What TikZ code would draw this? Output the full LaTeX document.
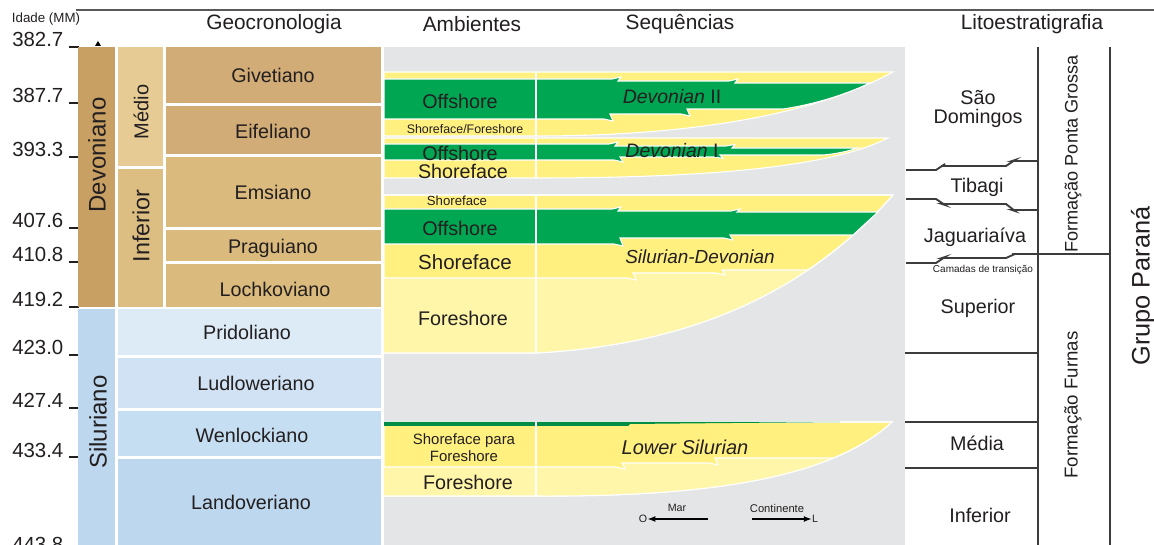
\documentclass[tikz,border=0pt]{standalone}
\usepackage{fontspec}
\setmainfont{Liberation Sans}
\usetikzlibrary{arrows.meta}
\definecolor{txt}{RGB}{35,31,32}
\definecolor{devc}{RGB}{201,160,99}
\definecolor{medc}{RGB}{230,203,148}
\definecolor{infc}{RGB}{220,190,130}
\definecolor{stA}{RGB}{210,172,118}
\definecolor{stB}{RGB}{218,186,125}
\definecolor{silc}{RGB}{189,215,238}
\definecolor{prid}{RGB}{221,235,247}
\definecolor{ludl}{RGB}{208,226,243}
\definecolor{wenl}{RGB}{197,222,242}
\definecolor{land}{RGB}{189,215,238}
\definecolor{greyb}{RGB}{228,229,230}
\definecolor{grn}{RGB}{0,166,81}
\definecolor{shy}{RGB}{255,240,128}
\definecolor{fsy}{RGB}{255,246,170}
\definecolor{lin}{RGB}{60,60,60}
\newcommand{\fsz}[1]{\fontsize{#1}{#1}\selectfont}
\tikzset{
  band/.style={fill=#1, draw=white, line width=0.8},
  lbl/.style={font=\fsz{14.8}},
  hdr/.style={font=\fsz{15.6}},
  age/.style={font=\fsz{15.3}, anchor=base west},
  lith/.style={draw=lin, line width=1.4},
}
\begin{document}
\begin{tikzpicture}[x=0.75pt,y=-0.75pt, every node/.style={inner sep=0pt, text=txt}]
\useasboundingbox (0,0) rectangle (1154,545);
\fill[white] (0,0) rectangle (1154,545);
% top rule
\draw[draw=black!65, line width=2.2] (76,10) -- (1154,10);
% headers
\node[font=\fsz{10}] (idade) at (46,19) {Idade (MM)};
\node[hdr] (hgeo) at (274,24) {Geocronologia};
\node[hdr] (hamb) at (472,24) {Ambientes};
\node[hdr] (hseq) at (680,24) {Sequências};
\node[hdr] (hlit) at (1032,24) {Litoestratigrafia};
% ages
\foreach \v/\y [count=\i] in {382.7/47,387.7/103,393.3/157,407.6/228,410.8/262,419.2/307,423.0/355,427.4/408,433.4/457,443.8/551}{
  \node[age] (age\i) at (12,\y) {\v};
  \draw[txt, line width=1.2] ([xshift=4]age\i.base east) -- ++(10,0);
}
% geochronology boxes
\fill[devc] (78,47) rectangle (115,307);
\fill[medc] (118,47) rectangle (163,166);
\fill[infc] (118,169) rectangle (163,307);
\fill[stA] (166,47) rectangle (381,103);
\fill[stA] (166,106) rectangle (381,154);
\fill[stB] (166,157) rectangle (381,227);
\fill[stB] (166,230) rectangle (381,261);
\fill[stB] (166,264) rectangle (381,307);
\fill[silc] (78,309) rectangle (115,545);
\fill[prid] (118,309) rectangle (381,355);
\fill[ludl] (118,358) rectangle (381,408);
\fill[wenl] (118,411) rectangle (381,456);
\fill[land] (118,459) rectangle (381,545);
\fill[black] (95,46) -- (101,46) -- (98,41) -- cycle;
\node[font=\fsz{18}, rotate=90] (dev) at (97,155) {Devoniano};
\node[font=\fsz{18}, rotate=90] (sil) at (98,422) {Siluriano};
\node[font=\fsz{15}, rotate=90] (med) at (141,112) {Médio};
\node[font=\fsz{17.5}, rotate=90] (inf) at (141,226) {Inferior};
\node[lbl] (giv) at (273,75) {Givetiano};
\node[lbl] (eif) at (273,131) {Eifeliano};
\node[lbl] (ems) at (273,192) {Emsiano};
\node[lbl] (pra) at (273,248) {Praguiano};
\node[lbl] (loc) at (275,289) {Lochkoviano};
\node[lbl] (pri) at (247,332) {Pridoliano};
\node[lbl] (lud) at (256,383) {Ludloweriano};
\node[lbl] (wen) at (252,435) {Wenlockiano};
\node[lbl] (lan) at (251,502) {Landoveriano};
% grey environment background
\fill[greyb] (384,47) rectangle (905,545);
% Group A: Devonian II
\path[band=shy] (384,72) -- (893,72) .. controls (820,112) and (700,136) .. (536,136) -- (384,136) -- cycle;
\path[band=grn] (384,79) -- (612,79) -- (621,77) -- (618,81) -- (729,81) -- (738,79) -- (735,83) -- (870,83)
  .. controls (840,97) and (810,105) .. (783,109) -- (687,109) -- (690,116) -- (681,114) -- (610,114)
  -- (613,121) -- (604,119) -- (384,119) -- cycle;
% Group B: Devonian I
\path[band=shy] (384,138) -- (888,138) .. controls (830,168) and (700,178) .. (536,178) -- (384,178) -- cycle;
\path[band=grn] (384,144) -- (609,144) -- (618,142) -- (615,146) -- (726,146) -- (735,144.5) -- (732,148) -- (858,148)
  .. controls (845,152) and (835,154) .. (823,155) -- (720,155) -- (723,158.5) -- (714,157) -- (620,157)
  -- (623,162) -- (614,160) -- (384,160) -- cycle;
% Group C: Silurian-Devonian
\path[band=shy] (384,195) -- (893,195) .. controls (800,300) and (680,345) .. (536,353) -- (384,353) -- cycle;
\begin{scope}
  \clip (384,195) -- (893,195) .. controls (800,300) and (680,345) .. (536,353) -- (384,353) -- cycle;
  \path[band=fsy] (380,278) -- (627,278) -- (636,280) -- (633,273) -- (716,273) -- (725,275) -- (722,270) -- (950,270) -- (950,400) -- (380,400) -- cycle;
\end{scope}
\draw[white, line width=0.8] (384,195) -- (893,195) .. controls (800,300) and (680,345) .. (536,353) -- (384,353);
\path[band=grn] (384,209) -- (612,209) -- (621,207) -- (618,211) -- (731,211) -- (740,209) -- (737,212) -- (878,212)
  -- (853,235) -- (730,235) -- (733,240) -- (724,238) -- (620,238) -- (623,246) -- (614,244) -- (384,244) -- cycle;
% Group D: Lower Silurian
\path[band=shy] (384,422) -- (892,422) .. controls (830,480) and (700,497) .. (536,496) -- (384,496) -- cycle;
\begin{scope}
  \clip (384,422) -- (892,422) .. controls (830,480) and (700,497) .. (536,496) -- (384,496) -- cycle;
  \path[band=fsy] (380,467) -- (616,467) -- (625,469) -- (622,463) -- (709,463) -- (718,465) -- (715,458) -- (950,458) -- (950,520) -- (380,520) -- cycle;
\end{scope}
\draw[white, line width=0.8] (384,422) -- (892,422) .. controls (830,480) and (700,497) .. (536,496) -- (384,496);
\fill[grn!85!black] (384,422) -- (840,422) -- (700,423.3) -- (630,424) -- (628,426) -- (384,426) -- cycle;
% white column divider
\foreach \a/\b in {72/136,138/178,195/353,422/496}{\draw[white, line width=1] (536,\a) -- (536,\b);}
% environment labels
\node[lbl] (off1) at (460,101) {Offshore};
\node[font=\fsz{9.3}] (sff) at (465,129) {Shoreface/Foreshore};
\node[lbl] (off2) at (460,153) {Offshore};
\node[lbl] (sh1) at (463,171) {Shoreface};
\node[font=\fsz{9.9}] (sh2) at (457,201) {Shoreface};
\node[lbl] (off3) at (460,228) {Offshore};
\node[font=\fsz{15.4}] (sh3) at (465,262) {Shoreface};
\node[lbl] (fo1) at (463,318) {Foreshore};
\node[font=\fsz{11.2}, align=center] (spf) at (464,448) {Shoreface para\\[1.5pt]Foreshore};
\node[lbl] (fo2) at (468,482) {Foreshore};
% sequence labels
\node[font=\fsz{14.6}] (dev2) at (672,97) {\textit{Devonian} II};
\node[font=\fsz{14.6}] (dev1) at (672,151) {\textit{Devonian} I};
\node[font=\fsz{14.2}] (sdv) at (700,257) {\textit{Silurian-Devonian}};
\node[font=\fsz{15}] (lsil) at (685,447) {\textit{Lower Silurian}};
% direction arrows
\node[font=\fsz{8}] (O) at (643,519) {O};
\node[font=\fsz{8}] (L) at (815,519) {L};
\node[font=\fsz{8}] (mar) at (677,508) {Mar};
\node[font=\fsz{8.4}] (cont) at (777,508) {Continente};
\coordinate (marS) at (708,519);
\coordinate (conS) at (752,519);
\draw[-{Latex[length=6pt,width=4.5pt]}, line width=1.1, black] (marS) -- (O.east);
\draw[-{Latex[length=6pt,width=4.5pt]}, line width=1.1, black] (conS) -- (L.west);
% lithostratigraphy
\draw[lith] (1038,47) -- (1038,545);
\draw[lith] (1110,47) -- (1110,545);
\draw[lith] (906,170) -- (936,170) -- (945,164) -- (942,166) -- (1006,166) -- (1015,160) -- (1012,161) -- (1038,161);
\draw[lith] (906,199) -- (936,199) -- (945,205) -- (942,204) -- (1006,204) -- (1015,211) -- (1012,210) -- (1038,210);
\draw[lith] (906,263) -- (936,263) -- (945,257) -- (942,258) -- (1006,258) -- (1015,254) -- (1012,254) -- (1110,254);
\draw[lith] (905,353) -- (1038,353);
\draw[lith] (905,422) -- (1038,422);
\draw[lith] (905,468) -- (1038,468);
\node[lbl, align=center] (sd) at (978,109) {São\\[-0.5pt]Domingos};
\node[lbl] (tib) at (977,187) {Tibagi};
\node[lbl] (jag) at (975,237) {Jaguariaíva};
\node[font=\fsz{7.5}] (cam) at (983,270) {Camadas de transição};
\node[lbl] (sup) at (978,308) {Superior};
\node[lbl] (mediaN) at (977,443) {Média};
\node[lbl] (infL) at (980,515) {Inferior};
\node[font=\fsz{13.6}, rotate=90] (fpg) at (1073,154) {Formação Ponta Grossa};
\node[font=\fsz{14}, rotate=90] (ffu) at (1073,405) {Formação Furnas};
\node[font=\fsz{19}, rotate=90] (gp) at (1143,286) {Grupo Paraná};
\end{tikzpicture}
\end{document}
